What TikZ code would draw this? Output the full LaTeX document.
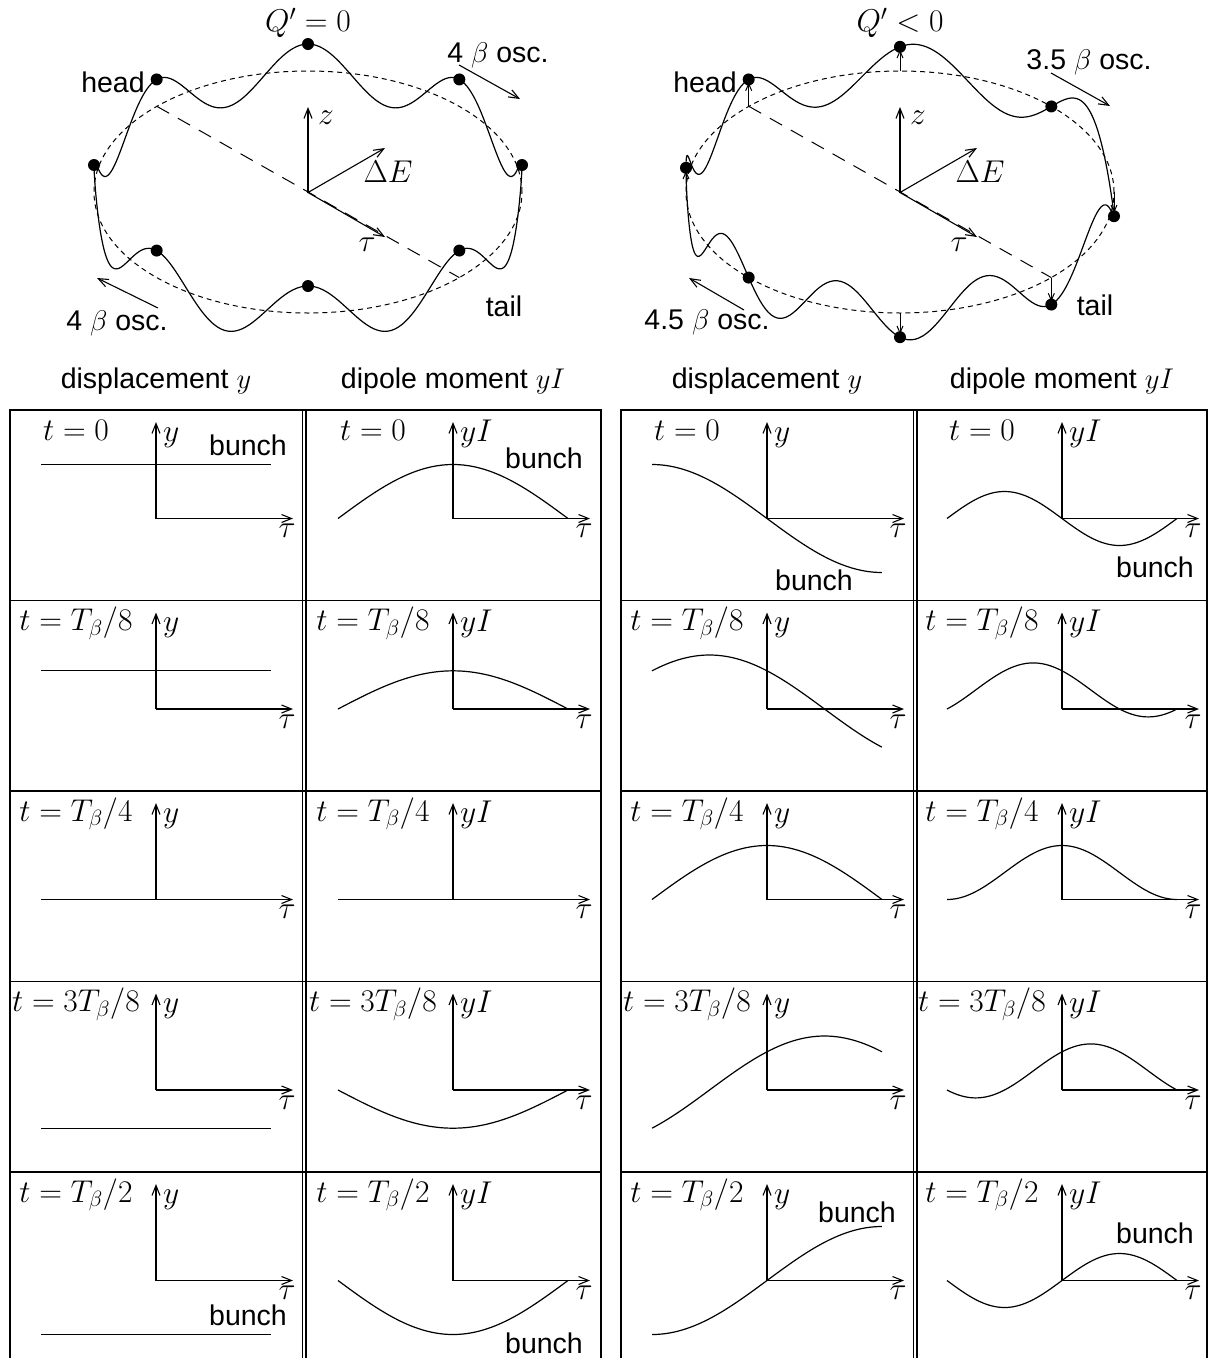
\RequirePackage{fix-cm}
\documentclass[tikz,border=0pt]{standalone}
\usepackage[no-math]{fontspec}
\setsansfont{Liberation Sans}
\usetikzlibrary{arrows.meta}
\begin{document}
\begin{tikzpicture}[x=1pt,y=-1pt,
  mth/.style={font=\fontsize{31.5}{36}\selectfont, inner sep=0pt},
  sf/.style={font=\sffamily\fontsize{28.5}{33}\selectfont, inner sep=0pt},
  grid/.style={line width=1.6pt},
  dbl/.style={line width=1.2pt},
  curve/.style={line width=1.2pt, line join=round},
  ax/.style={line width=1.1pt, -{Straight Barb[length=10pt,width=8pt]}},
  sax/.style={line width=1pt, -{Straight Barb[length=7pt,width=6pt]}, shorten >=3pt},
  ell/.style={line width=1pt, dash pattern=on 5pt off 4pt},
  diag/.style={line width=1pt, dash pattern=on 14pt off 10pt},
  dot/.style={circle, fill, inner sep=0pt, minimum size=12pt},
]
\useasboundingbox (0,0) rectangle (1209,1358);

% ================= top left: Q'=0 =================
\draw[ell] (308,192) ellipse [x radius=214pt, y radius=121pt];
\coordinate (hL) at (157,106.4);
\coordinate (tL) at (459.3,277.6);
\draw[diag] (hL) -- (tL);
\coordinate (oL) at (308,192.5);
\coordinate (zL) at (308,107);
\coordinate (eL) at (385,148);
\coordinate (uL) at (385,237);
\draw[ax] (oL) -- (zL);
\draw[ax] (oL) -- (eL);
\draw[ax] (oL) -- (uL);
\draw[curve] plot[domain=0:360, samples=361, smooth] ({308+214*cos(\x)},{192-121*sin(\x)-27*cos(8*\x)});
\foreach \th [count=\i] in {0,45,...,315}
  \node[dot] (dL\i) at ({308+214*cos(\th)},{192-121*sin(\th)-27*cos(8*\th)}) {};
\node[mth] (qL) at (308,23) {$Q'=0$};
\node[mth] (zlabL) at (326,118) {$z$};
\node[mth] (elabL) at (388,172) {$\Delta E$};
\node[mth] (ulabL) at (367,245) {$\tau$};
\node[sf] (headL) at (113,82) {head};
\node[sf] (tailL) at (504,306) {tail};
\node[sf] (oscL1) at (498,55) {4 $\beta$ osc.};
\node[sf] (oscL2) at (117,323) {4 $\beta$ osc.};
\coordinate (a1s) at (459,65); \coordinate (a1e) at (520,99);
\draw[ax] (a1s) -- (a1e);
\coordinate (a2s) at (158,308); \coordinate (a2e) at (97,278);
\draw[ax] (a2s) -- (a2e);

% ================= top right: Q'<0 =================
\draw[ell] (900,192) ellipse [x radius=214pt, y radius=121pt];
\coordinate (hR) at (749,106.4);
\coordinate (tR) at (1051.3,277.6);
\draw[diag] (hR) -- (tR);
\coordinate (oR) at (900,192.5);
\coordinate (zR) at (900,107);
\coordinate (eR) at (977,148);
\coordinate (uR) at (977,237);
\draw[ax] (oR) -- (zR);
\draw[ax] (oR) -- (eR);
\draw[ax] (oR) -- (uR);
\draw[curve] plot[domain=0:360, samples=361, smooth] ({900+214*cos(\x)},{192-121*sin(\x)-27*cos(8*\x+90*cos(\x+45)+90)});
\foreach \th [count=\i] in {0,45,...,315}
  \node[dot] (dR\i) at ({900+214*cos(\th)},{192-121*sin(\th)-27*cos(8*\th+90*cos(\th+45)+90)}) {};
\foreach \th/\i in {0/1,90/3,135/4,180/5,270/7,315/8} {
  \coordinate (eP\i) at ({900+214*cos(\th)},{192-121*sin(\th)});
  \draw[sax] (eP\i) -- (dR\i.center);
}
\node[mth] (qR) at (900,23) {$Q'<0$};
\node[mth] (zlabR) at (918,118) {$z$};
\node[mth] (elabR) at (980,172) {$\Delta E$};
\node[mth] (ulabR) at (959,245) {$\tau$};
\node[sf] (headR) at (705,82) {head};
\node[sf] (tailR) at (1095,305) {tail};
\node[sf] (oscR1) at (1089,62) {3.5 $\beta$ osc.};
\node[sf] (oscR2) at (707,322) {4.5 $\beta$ osc.};
\coordinate (a3s) at (1051,73); \coordinate (a3e) at (1110,106);
\draw[ax] (a3s) -- (a3e);
\coordinate (a4s) at (744,310); \coordinate (a4e) at (689,278);
\draw[ax] (a4s) -- (a4e);

% ================= headers =================
\node[sf, anchor=base] (hd1) at (156,388) {displacement $y$};
\node[sf, anchor=base] (hd2) at (453,388) {dipole moment $yI$};
\node[sf, anchor=base] (hd3) at (767,388) {displacement $y$};
\node[sf, anchor=base] (hd4) at (1062,388) {dipole moment $yI$};

% ================= table lines =================
\foreach \yy in {410,600.5,791,981.5,1172} {
  \draw[grid] (10,\yy) -- (601,\yy);
  \draw[grid] (621,\yy) -- (1207,\yy);
}
\foreach \xx in {10,601,621,1207} \draw[grid] (\xx,409.2) -- (\xx,1358);
\foreach \xx in {302.5,306,913.5,917} \draw[dbl] (\xx,410) -- (\xx,1358);

% ================= panels =================
\foreach \k/\rt/\lab in {0/410/{t=0},1/600.5/{t=T_\beta/8},2/791/{t=T_\beta/4},3/981.5/{t=3T_\beta/8},4/1172/{t=T_\beta/2}} {
  \pgfmathsetmacro\ay{\rt+108.5}
  \pgfmathsetmacro\amp{54*cos(45*\k)}
  \pgfmathsetmacro\ph{45*\k-90}
  \foreach \ax/\c in {156/a,453/b,767/c,1062/d} {
    \coordinate (o\c\k) at (\ax,\ay);
    \coordinate (tt\c\k) at (\ax+137,\ay);
    \coordinate (yt\c\k) at (\ax,\rt+12);
    \draw[ax] (o\c\k) -- (tt\c\k);
    \draw[ax] (o\c\k) -- (yt\c\k);
    \node[mth, anchor=base] (tau\c\k) at (\ax+131,\ay+19) {$\tau$};
    \node[mth, anchor=base] (lab\c\k) at (\ax-80,\rt+30) {$\lab$};
  }
  \node[mth, anchor=base west] (ya\k) at (163,\rt+31) {$y$};
  \node[mth, anchor=base west] (yb\k) at (460,\rt+31) {$yI$};
  \node[mth, anchor=base west] (yc\k) at (774,\rt+31) {$y$};
  \node[mth, anchor=base west] (yd\k) at (1069,\rt+31) {$yI$};
  \draw[curve] (41,\ay-\amp) -- (271,\ay-\amp);
  \draw[curve] plot[domain=-1:1, samples=50, smooth] ({453+115*\x},{\ay-(\amp)*cos(90*\x)});
  \draw[curve] plot[domain=-1:1, samples=50, smooth] ({767+115*\x},{\ay-54*cos(\ph-90*(\x))});
  \draw[curve] plot[domain=-1:1, samples=50, smooth] ({1062+115*\x},{\ay-54*cos(\ph-90*(\x))*cos(90*\x)});
}

% ================= bunch labels =================
\node[sf, anchor=base] (b1) at (248,455) {bunch};
\node[sf, anchor=base] (b2) at (544,468) {bunch};
\node[sf, anchor=base] (b3) at (814,590) {bunch};
\node[sf, anchor=base] (b4) at (1155,577) {bunch};
\node[sf, anchor=base] (b5) at (248,1325) {bunch};
\node[sf, anchor=base] (b6) at (544,1353) {bunch};
\node[sf, anchor=base] (b7) at (857,1222) {bunch};
\node[sf, anchor=base] (b8) at (1155,1243) {bunch};
\end{tikzpicture}
\end{document}
